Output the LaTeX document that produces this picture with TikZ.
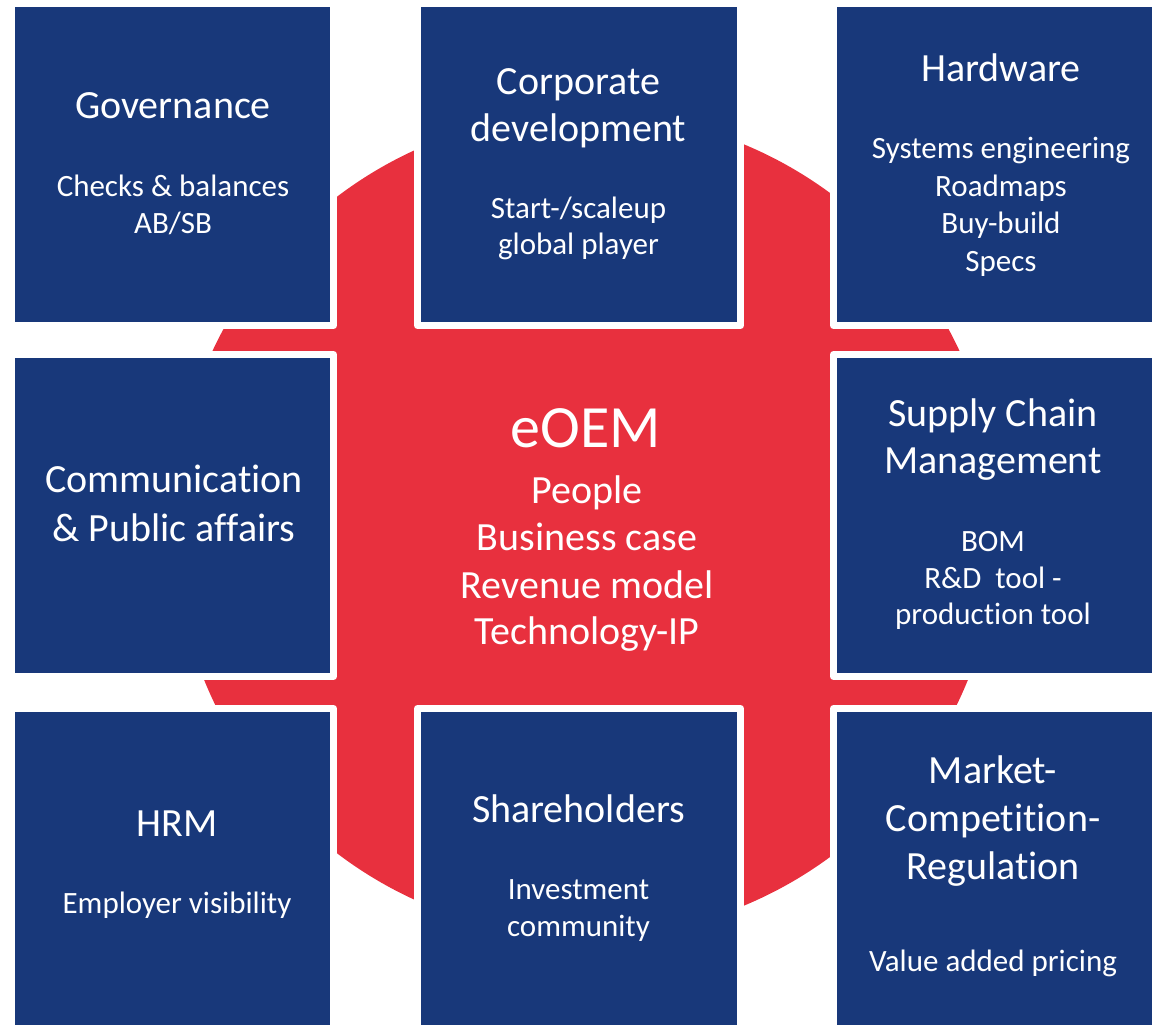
\documentclass[tikz,border=0pt]{standalone}
\usepackage{fontspec}
\setmainfont{Carlito}[Ligatures=NoCommon]
\definecolor{boxblue}{HTML}{18387A}
\definecolor{hubred}{HTML}{E8303E}
\tikzset{
  tile/.style={draw=white, line width=7pt, fill=boxblue, line join=round, inner sep=0pt, minimum width=#1},
  tile/.default=322pt,
  ttl/.style={text=white, anchor=base, inner sep=0pt, font=\fontsize{40}{48}\selectfont},
  sub/.style={text=white, anchor=base, inner sep=0pt, font=\fontsize{31}{37}\selectfont},
  big/.style={text=white, anchor=base, inner sep=0pt, font=\fontsize{60}{70}\selectfont},
}
\begin{document}
\begin{tikzpicture}[x=1pt,y=-1pt]
\useasboundingbox (0,0) rectangle (1155,1024);
\fill[hubred] (586,525) circle[radius=412pt];

% tiles
\node[tile, minimum height=322pt] (gov)  at (172.5,164.5) {};
\node[tile=323pt, minimum height=322pt] (corp) at (579,164.5) {};
\node[tile, minimum height=322pt] (hw)   at (994.5,164.5) {};
\node[tile, minimum height=322pt] (comm) at (172.5,515.5) {};
\node[tile, minimum height=322pt] (scm)  at (994.5,515.5) {};
\node[tile, minimum height=325pt] (hrm)  at (172.5,871) {};
\node[tile=323pt, minimum height=325pt] (sh) at (579,871) {};
\node[tile, minimum height=325pt] (mkt)  at (994.5,871) {};

\begin{scope}[yshift=-1.5pt]
% Governance
\node[ttl] (govt) at (173,117) {Governance};
\node[sub] (govs1) at (173,195) {Checks \& balances};
\node[sub] (govs2) at (173,232) {AB/SB};

% Corporate development
\node[ttl] (corpt1) at (578.5,93) {Corporate};
\node[ttl] (corpt2) at (578.5,140) {development};
\node[sub] (corps1) at (578.5,217) {Start-/scaleup};
\node[sub] (corps2) at (578.5,253) {global player};

% Hardware
\node[ttl] (hwt) at (1001,80) {Hardware};
\node[sub] (hws1) at (1001,157) {Systems engineering};
\node[sub] (hws2) at (1001,195) {Roadmaps};
\node[sub] (hws3) at (1001,232) {Buy-build};
\node[sub] (hws4) at (1001,270) {Specs};

% Communication
\node[ttl] (commt1) at (174,491) {Communication};
\node[ttl] (commt2) at (174,540) {\& Public affairs};

% centre
\node[big] (hubt) at (586,446) {eOEM};
\node[ttl] (hub1) at (587,502) {People};
\node[ttl] (hub2) at (587,549) {Business case};
\node[ttl] (hub3) at (587,597) {Revenue model};
\node[ttl] (hub4) at (587,643) {Technology-IP};

% Supply chain
\node[ttl] (scmt1) at (993,425) {Supply Chain};
\node[ttl] (scmt2) at (993,472) {Management};
\node[sub] (scms1) at (993,550) {BOM};
\node[sub] (scms2) at (993,587) {R\&D\ \ tool -};
\node[sub] (scms3) at (993,623) {production tool};

% HRM
\node[ttl] (hrmt) at (177,835) {HRM};
\node[sub] (hrms1) at (177,912) {Employer visibility};

% Shareholders
\node[ttl] (sht) at (578.5,821) {Shareholders};
\node[sub] (shs1) at (578.5,898) {Investment};
\node[sub] (shs2) at (578.5,935) {community};

% Market
\node[ttl] (mktt1) at (993,782) {Market-};
\node[ttl] (mktt2) at (993,830) {Competition-};
\node[ttl] (mktt3) at (993,878) {Regulation};
\node[sub] (mkts1) at (993,970) {Value added pricing};
\end{scope}
\end{tikzpicture}
\end{document}
